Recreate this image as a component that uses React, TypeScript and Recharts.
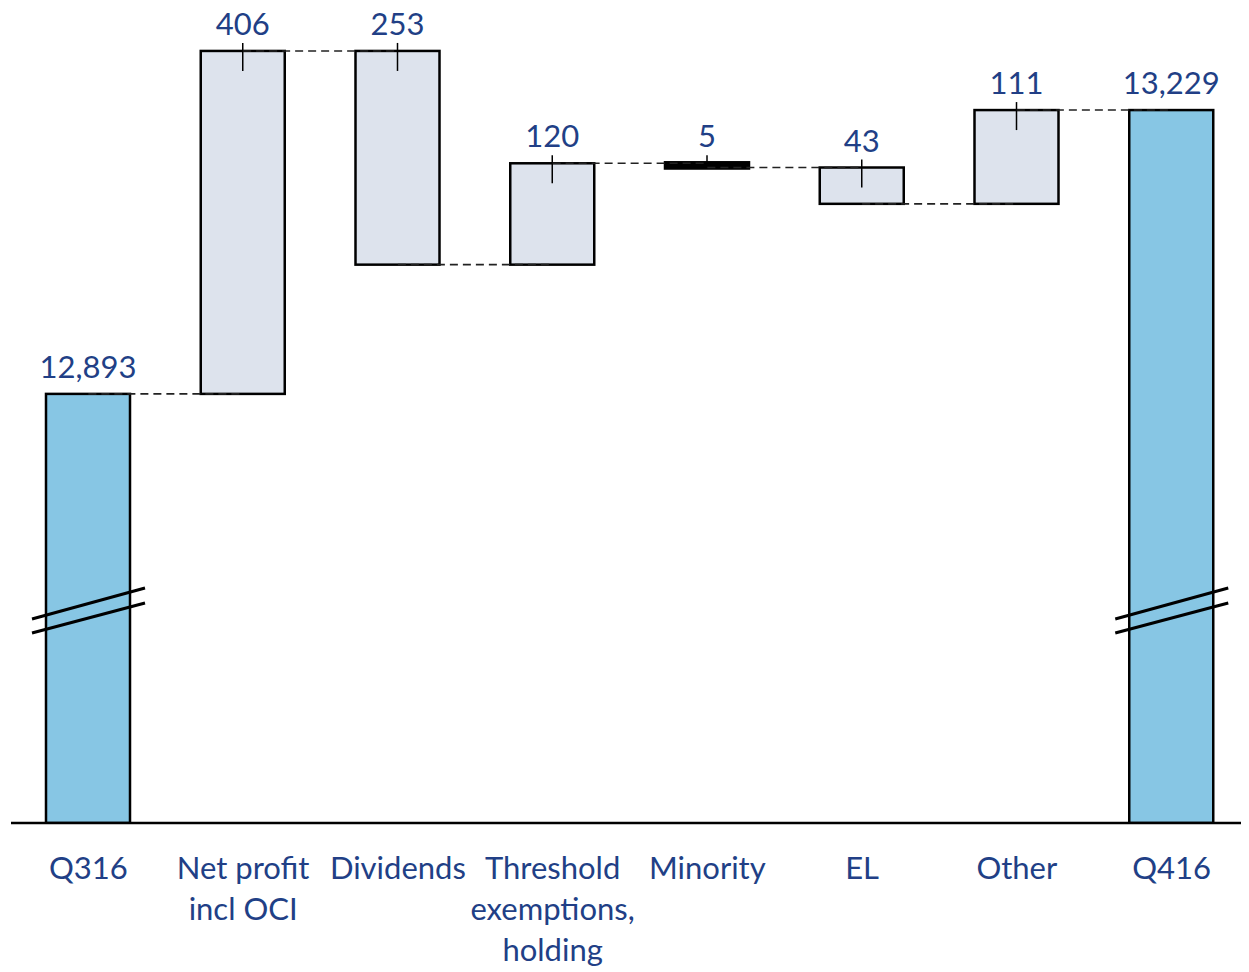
import { ComposedChart, Bar, XAxis, YAxis, LabelList, ReferenceLine } from "recharts";

// categories and their axis label lines
const categories = ["Q316", "Net profit", "Dividends", "Threshold", "Minority", "EL", "Other", "Q416"];
const tickLines = [
  ["Q316"],
  ["Net profit", "incl OCI"],
  ["Dividends"],
  ["Threshold", "exemptions,", "holding"],
  ["Minority"],
  ["EL"],
  ["Other"],
  ["Q416"],
];

const startValue = 12893;
const changes = [406, -253, 120, -5, -43, 111];
const endValue = 13229;
// broken axis: bars for totals start here
const axisFloor = 12385;
const axisTop = 13338;

const BLUE_TEXT = "#213F86";
const FONT = "Lato, 'DejaVu Sans', sans-serif";

type Row = {
  name: string;
  range: [number, number];
  kind: "total" | "change";
  label: number;
  end: number;
};

const rows: Row[] = [];
rows.push({ name: categories[0], range: [axisFloor, startValue], kind: "total", label: startValue, end: startValue });
let level = startValue;
changes.forEach((c, i) => {
  const to = level + c;
  rows.push({
    name: categories[i + 1],
    range: [Math.min(level, to), Math.max(level, to)],
    kind: "change",
    label: Math.abs(c),
    end: to,
  });
  level = to;
});
rows.push({ name: categories[categories.length - 1], range: [axisFloor, endValue], kind: "total", label: endValue, end: endValue });

const connectors = rows.slice(0, -1).map((r, i) => [
  { x: r.name, y: r.end },
  { x: rows[i + 1].name, y: r.end },
]);

const WaterfallShape = (props: any) => {
  const { x, y, width, height, payload } = props;
  const bottom = y + height;
  if (payload.kind === "total") {
    return (
      <g>
        <rect x={x} y={y} width={width} height={height} fill="#87C6E4" stroke="#000" strokeWidth={2.5} />
        <line x1={x - 14} y1={bottom - 204} x2={x + width + 15} y2={bottom - 235} stroke="#000" strokeWidth={3} />
        <line x1={x - 14} y1={bottom - 190} x2={x + width + 15} y2={bottom - 220} stroke="#000" strokeWidth={3} />
      </g>
    );
  }
  // very small changes show as a solid black line
  const thin = height < 8;
  return (
    <g>
      <rect
        x={x}
        y={thin ? y - 1 : y}
        width={width}
        height={thin ? height + 2 : height}
        fill={thin ? "#000" : "#DDE3ED"}
        stroke="#000"
        strokeWidth={2.5}
      />
      <line x1={x + width / 2} y1={y - 8} x2={x + width / 2} y2={Math.min(y + 20, bottom)} stroke="#000" strokeWidth={1.5} />
    </g>
  );
};

const CategoryTick = (props: any) => {
  const { x, y, payload } = props;
  const idx = categories.indexOf(payload.value);
  const lines = tickLines[idx] || [payload.value];
  return (
    <text x={x} y={y} textAnchor="middle" fill={BLUE_TEXT} fontSize={31} fontFamily={FONT}>
      {lines.map((l, i) => (
        <tspan key={i} x={x} dy={i === 0 ? 48 : 41}>
          {l}
        </tspan>
      ))}
    </text>
  );
};

const ValueLabel = (props: any) => {
  const { x, y, width, value } = props;
  return (
    <text x={x + width / 2} y={y - 16} textAnchor="middle" fill={BLUE_TEXT} fontSize={31} fontFamily={FONT}>
      {Number(value).toLocaleString("en-US")}
    </text>
  );
};

export default function App() {
  return (
    <div style={{ marginTop: -10 }}>
      <ComposedChart
        width={1241}
        height={974}
        data={rows}
        margin={{ top: 20, right: 0, bottom: 9, left: 3 }}
        barCategoryGap={0}
      >
        <XAxis
          dataKey="name"
          interval={0}
          height={140}
          tickLine={false}
          axisLine={{ stroke: "#000", strokeWidth: 2.5 }}
          tick={<CategoryTick />}
        />
        <YAxis hide type="number" domain={[axisFloor, axisTop]} allowDataOverflow />
        {connectors.map((seg, i) => (
          <ReferenceLine key={i} segment={seg} stroke="#222" strokeWidth={1.6} strokeDasharray="8 5" />
        ))}
        <Bar dataKey="range" barSize={84} shape={<WaterfallShape />} isAnimationActive={false}>
          <LabelList dataKey="label" content={<ValueLabel />} />
        </Bar>
      </ComposedChart>
    </div>
  );
}
